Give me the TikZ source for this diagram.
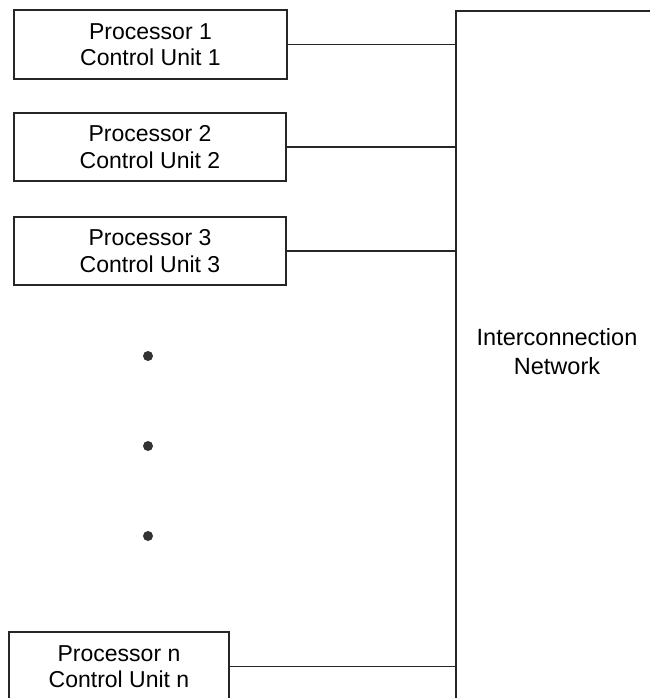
\documentclass[tikz,border=0pt]{standalone}
\usepackage{fontspec}
\setmainfont{Liberation Sans}
\begin{document}
\begin{tikzpicture}[x=1pt,y=-1pt,
  line width=1.2pt,
  every node/.style={font=\fontsize{23}{26.5}\selectfont},
  procbox/.style={draw=black!85, rectangle, inner sep=0pt, align=center},
  link/.style={draw=black!85},
  netbox/.style={draw=black!85},
  dotmark/.style={fill=black!80}]
\useasboundingbox (0,0) rectangle (649,698);

% processor / control unit boxes
\node[procbox, minimum width=273pt, minimum height=69pt] (p1) at (150.5,44.5) {Processor 1\\Control Unit 1};
\node[procbox, minimum width=272pt, minimum height=68pt] (p2) at (150,147) {Processor 2\\Control Unit 2};
\node[procbox, minimum width=272pt, minimum height=68pt] (p3) at (150,251) {Processor 3\\Control Unit 3};
\node[procbox, minimum width=220pt, minimum height=69pt] (pn) at (119,666.5) {Processor n\\Control Unit n};

% interconnection network (extends past the right and bottom edges)
\coordinate (nettl) at (456,11);
\coordinate (netbr) at (660,720);
\draw[netbox] (netbr |- nettl) -- (nettl) -- (nettl |- netbr);
\node[align=center, font=\fontsize{23.5}{29}\selectfont] (netlabel) at (557,352) {Interconnection\\Network};

% links from each unit to the network
\foreach \p in {p1,p2,p3,pn}
  \draw[link] (\p.east) -- (\p.east -| nettl);

% ellipsis dots
\foreach \y/\n in {356/d1,446/d2,536/d3}
  \fill[dotmark] (148,\y) circle (5pt) coordinate (\n);
\end{tikzpicture}
\end{document}
